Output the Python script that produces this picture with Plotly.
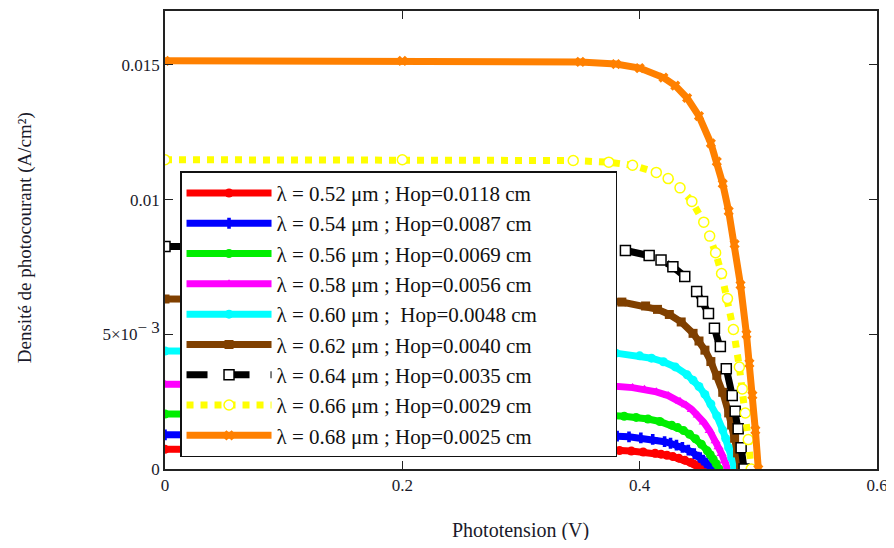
import plotly.graph_objects as go

# ---- data ----
labels = [
    "λ = 0.52 μm ; Hop=0.0118 cm",
    "λ = 0.54 μm ; Hop=0.0087 cm",
    "λ = 0.56 μm ; Hop=0.0069 cm",
    "λ = 0.58 μm ; Hop=0.0056 cm",
    "λ = 0.60 μm ; \u00a0Hop=0.0048 cm",
    "λ = 0.62 μm ; Hop=0.0040 cm",
    "λ = 0.64 μm ; Hop=0.0035 cm",
    "λ = 0.66 μm ; Hop=0.0029 cm",
    "λ = 0.68 μm ; Hop=0.0025 cm",
]

v_052 = [0, 0.2, 0.303, 0.333, 0.353, 0.373, 0.383, 0.393, 0.403, 0.413, 0.418, 0.423, 0.428, 0.433, 0.438, 0.443, 0.4455, 0.448, 0.4505, 0.453]
j_052 = [0.00073, 0.00073, 0.000728, 0.000724, 0.000717, 0.000700, 0.000685, 0.000664, 0.000631, 0.000583, 0.000550, 0.000510, 0.000461, 0.000402, 0.000329, 0.000241, 0.000189, 0.000132, 0.0000694, 0]

v_054 = [0, 0.2, 0.311, 0.341, 0.361, 0.381, 0.391, 0.401, 0.411, 0.421, 0.426, 0.431, 0.436, 0.441, 0.446, 0.451, 0.4535, 0.456, 0.4585, 0.461]
j_054 = [0.00127, 0.00127, 0.001267, 0.001260, 0.001247, 0.001218, 0.001193, 0.001154, 0.001099, 0.001013, 0.000956, 0.000888, 0.000803, 0.000700, 0.000573, 0.000419, 0.000329, 0.000230, 0.000121, 0]

v_056 = [0, 0.2, 0.317, 0.347, 0.367, 0.387, 0.397, 0.407, 0.417, 0.427, 0.432, 0.437, 0.442, 0.447, 0.452, 0.457, 0.4595, 0.462, 0.4645, 0.467]
j_056 = [0.00204, 0.00204, 0.002035, 0.002024, 0.002003, 0.001956, 0.001916, 0.001854, 0.001765, 0.001628, 0.001536, 0.001426, 0.001289, 0.001124, 0.000920, 0.000673, 0.000528, 0.000369, 0.000194, 0]

v_058 = [0, 0.2, 0.324, 0.354, 0.374, 0.394, 0.404, 0.414, 0.424, 0.434, 0.439, 0.444, 0.449, 0.454, 0.459, 0.464, 0.4665, 0.469, 0.4715, 0.474]
j_058 = [0.00315, 0.00315, 0.003142, 0.003125, 0.003093, 0.003021, 0.002958, 0.002863, 0.002725, 0.002514, 0.002372, 0.002202, 0.001991, 0.001736, 0.001421, 0.001040, 0.000816, 0.000570, 0.000299, 0]

v_060 = [0, 0.2, 0.330, 0.360, 0.380, 0.400, 0.410, 0.420, 0.430, 0.440, 0.445, 0.450, 0.455, 0.460, 0.465, 0.470, 0.4725, 0.475, 0.4775, 0.480]
j_060 = [0.00438, 0.00438, 0.004369, 0.004345, 0.004301, 0.004200, 0.004113, 0.003981, 0.003789, 0.003495, 0.003298, 0.003062, 0.002768, 0.002413, 0.001975, 0.001445, 0.001134, 0.000793, 0.000416, 0]

v_062 = [0, 0.2, 0.335, 0.365, 0.385, 0.405, 0.415, 0.425, 0.435, 0.445, 0.450, 0.455, 0.460, 0.465, 0.470, 0.475, 0.4775, 0.480, 0.4825, 0.485]
j_062 = [0.00631, 0.00631, 0.006294, 0.006260, 0.006196, 0.006051, 0.005925, 0.005736, 0.005458, 0.005035, 0.004751, 0.004411, 0.003988, 0.003477, 0.002846, 0.002082, 0.001634, 0.001142, 0.000599, 0]

v_064 = [0, 0.2, 0.338, 0.368, 0.388, 0.408, 0.418, 0.428, 0.438, 0.448, 0.453, 0.458, 0.463, 0.468, 0.473, 0.478, 0.4805, 0.483, 0.4855, 0.488]
j_064 = [0.00826, 0.00826, 0.008239, 0.008194, 0.008111, 0.007921, 0.007756, 0.007508, 0.007145, 0.006591, 0.006220, 0.005774, 0.005220, 0.004551, 0.003725, 0.002726, 0.002139, 0.001495, 0.000785, 0]

v_066 = [0, 0.2, 0.344, 0.374, 0.394, 0.414, 0.424, 0.434, 0.444, 0.454, 0.459, 0.464, 0.469, 0.474, 0.479, 0.484, 0.4865, 0.489, 0.4915, 0.494]
j_066 = [0.01148, 0.01148, 0.011451, 0.011388, 0.011273, 0.011009, 0.010780, 0.010435, 0.009930, 0.009161, 0.008644, 0.008025, 0.007255, 0.006325, 0.005177, 0.003788, 0.002973, 0.002078, 0.001091, 0]

v_068 = [0, 0.2, 0.35, 0.38, 0.40, 0.42, 0.43, 0.44, 0.45, 0.46, 0.465, 0.47, 0.475, 0.48, 0.485, 0.49, 0.4925, 0.495, 0.4975, 0.500]
j_068 = [0.01515, 0.01515, 0.01511, 0.01503, 0.01488, 0.01453, 0.01423, 0.01377, 0.01310, 0.01209, 0.01141, 0.01059, 0.00957, 0.00835, 0.00683, 0.00500, 0.00392, 0.00274, 0.00144, 0]

x_ticks = [0, 0.2, 0.4, 0.6]
x_ticktext = ["0", "0.2", "0.4", "0.6"]
y_ticks = [0, 0.005, 0.01, 0.015]
y_ticktext = ["0", "5×10<sup><span style='font-size:17px'>− 3</span></sup>", "0.01", "0.015"]

series_v = [v_052, v_054, v_056, v_058, v_060, v_062, v_064, v_066, v_068]
series_j = [j_052, j_054, j_056, j_058, j_060, j_062, j_064, j_066, j_068]

# ---- styles ----
colors = ["#ff0000", "#0000ff", "#00ee00", "#ff00ff", "#00ffff",
          "#804000", "#000000", "#ffff00", "#ff8000"]
symbols = ["circle", "cross", "circle", "triangle-up", "circle",
           "square", "square", "circle", "x"]
dashes = ["solid"] * 6 + ["dash", "dot", "solid"]
serif = "Liberation Serif, Times New Roman, serif"
pad = "\u00a0" * 14  # widen legend box like the reference

fig = go.Figure()
for i in range(9):
    is_open = i in (6, 7)
    fig.add_trace(go.Scatter(
        x=series_v[i], y=series_j[i], name=labels[i] + pad,
        mode="lines+markers",
        line=dict(color=colors[i], width=7, dash=dashes[i]),
        marker=dict(symbol=symbols[i], size=10 if is_open else 9,
                    color="white" if is_open else colors[i],
                    line=dict(color=colors[i], width=1.5 if is_open else 0)),
    ))

axis_common = dict(
    showgrid=False, zeroline=False, showline=True, linecolor="#222",
    linewidth=1.5, mirror="ticks", ticks="inside", ticklen=8,
    tickwidth=1.3, tickcolor="#222",
    tickfont=dict(family=serif, size=17, color="#1a1a2a"),
)
fig.update_xaxes(range=[0, 0.6], tickvals=x_ticks, ticktext=x_ticktext, **axis_common)
fig.update_yaxes(range=[0, 0.017], tickvals=y_ticks, ticktext=y_ticktext, **axis_common)

# page has an 8px body margin, so the figure is offset by 8px
fig.update_layout(
    width=886, height=532,
    margin=dict(l=157, r=17, t=1, b=71),
    paper_bgcolor="white", plot_bgcolor="white",
    showlegend=True,
    legend=dict(
        x=0.0211, y=0.6500, xanchor="left", yanchor="top",
        bgcolor="white", bordercolor="#111", borderwidth=1.5,
        font=dict(family=serif, size=21, color="#111"),
        itemwidth=85, tracegroupgap=0,
    ),
    annotations=[
        dict(text="Phototension (V)", xref="paper", yref="paper",
             x=0.4986, y=-0.135, xanchor="center", yanchor="middle",
             showarrow=False, font=dict(family=serif, size=20, color="#1a1a2a")),
        dict(text="Densité de photocourant (A/cm²)", xref="paper", yref="paper",
             x=-0.1966, y=0.504, xanchor="center", yanchor="middle",
             textangle=-90, showarrow=False,
             font=dict(family=serif, size=19, color="#1a1a2a")),
    ],
)

fig.write_html("out.html")
